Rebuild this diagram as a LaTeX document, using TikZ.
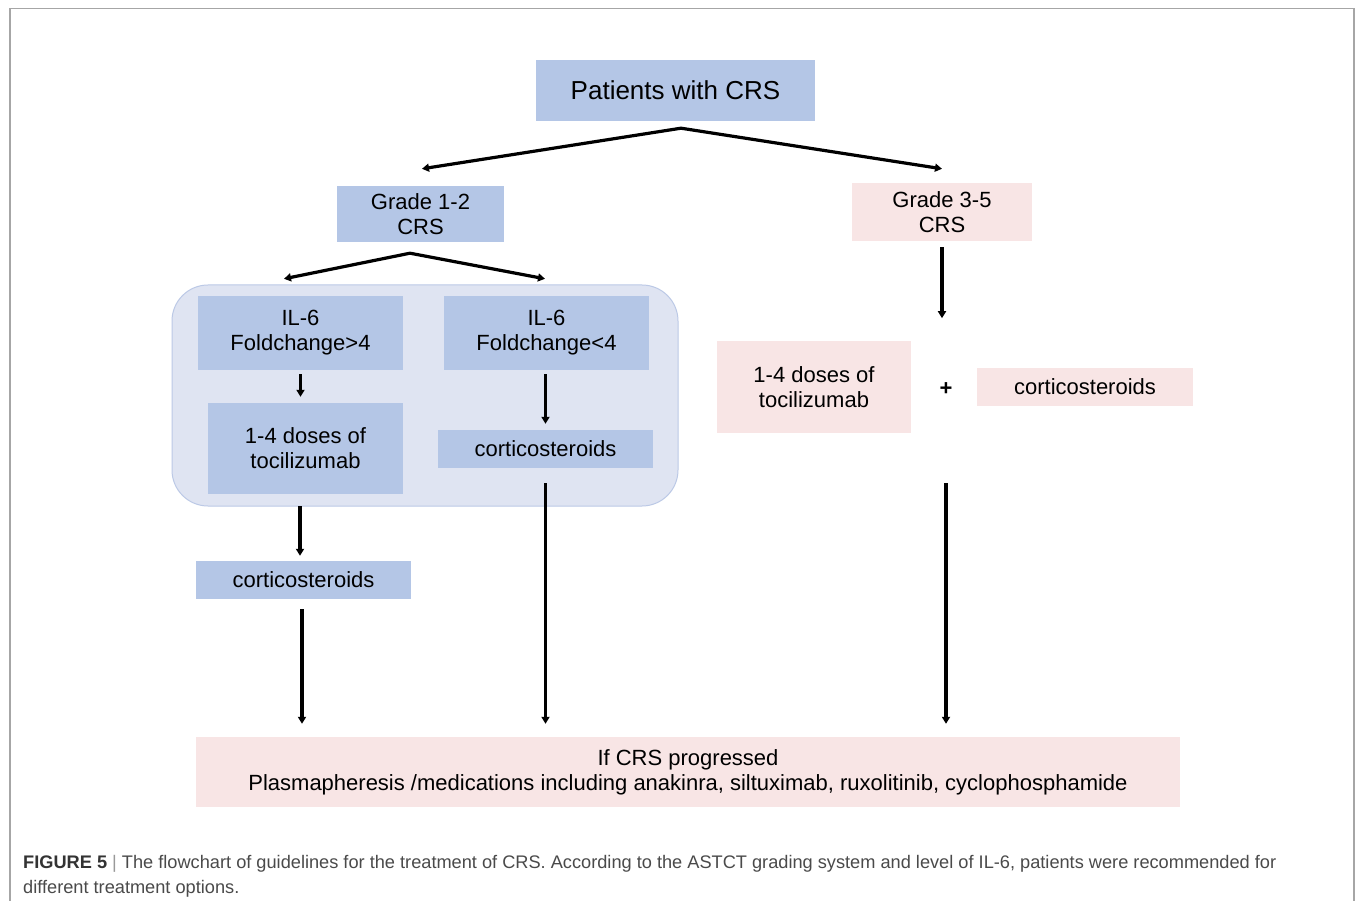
\documentclass[tikz,border=0pt]{standalone}
\usepackage{fontspec}
\setmainfont{Liberation Sans}
\usetikzlibrary{arrows.meta}
\definecolor{bluefill}{HTML}{B4C6E6}
\definecolor{grpfill}{HTML}{DFE4F2}
\definecolor{grpline}{HTML}{BCC9E6}
\definecolor{pinkfill}{HTML}{F8E5E5}
\definecolor{framegray}{HTML}{A6A6A6}
\definecolor{captext}{HTML}{4A4A4A}
\tikzset{
  box/.style={inner sep=0pt, align=center, font=\fontsize{22}{25}\selectfont},
  bluebox/.style={box, fill=bluefill},
  pinkbox/.style={box, fill=pinkfill},
  arr/.style={line width=3.2pt, -{Triangle[length=7pt,width=8pt]}},
}
\begin{document}
\begin{tikzpicture}[x=1pt,y=-1pt]
\useasboundingbox (0,0) rectangle (1355,901);
\fill[white] (0,0) rectangle (1355,901);
% frame
\draw[framegray, line width=1.5pt] (10,901) -- (10,8.5) -- (1354,8.5) -- (1354,901);

% group container
\node[draw=grpline, line width=1pt, fill=grpfill, rounded corners=36pt,
      minimum width=506pt, minimum height=221pt, inner sep=0pt] (grp) at (425,395.5) {};

% nodes
\node[bluebox, minimum width=279pt, minimum height=61pt, font=\fontsize{26}{30}\selectfont] (pat) at (675.5,90.5) {Patients with CRS};
\node[bluebox, minimum width=167pt, minimum height=56pt] (g12) at (420.5,214) {Grade 1-2\\CRS};
\node[pinkbox, minimum width=180pt, minimum height=58pt] (g35) at (942,212) {Grade 3-5\\CRS};

\node[bluebox, minimum width=205pt, minimum height=74pt] (ilhi) at (300.5,333) {IL-6\\Foldchange>4};
\node[bluebox, minimum width=205pt, minimum height=74pt] (illo) at (546.5,333) {IL-6\\Foldchange<4};
\node[bluebox, minimum width=195pt, minimum height=91pt] (toc1) at (305.5,448.5) {1-4 doses of\\tocilizumab};
\node[bluebox, minimum width=215pt, minimum height=38pt] (cort1) at (545.5,449) {corticosteroids};
\node[bluebox, minimum width=215pt, minimum height=38pt] (cort2) at (303.5,580) {corticosteroids};

\node[pinkbox, minimum width=194pt, minimum height=92pt] (toc2) at (814,387) {1-4 doses of\\tocilizumab};
\node[box, font=\fontsize{22}{25}\selectfont\bfseries] (plus) at (946,389) {+};
\node[pinkbox, minimum width=216pt, minimum height=38pt] (cort3) at (1085,387) {corticosteroids};

\node[pinkbox, minimum width=984pt, minimum height=70pt] (prog) at (688,772) {If CRS progressed\\Plasmapheresis /medications including anakinra, siltuximab, ruxolitinib, cyclophosphamide};

% connectors
\coordinate (patsplit) at ([xshift=5.5pt,yshift=-7pt]pat.south);
\draw[arr] (patsplit) -- ([xshift=1.5pt,yshift=17pt]g12.north);
\draw[arr] (patsplit) -- ([yshift=14pt]g35.north);

\coordinate (g12split) at ([xshift=-10.5pt,yshift=-11pt]g12.south);
\draw[arr] (g12split) -- ([xshift=-16.5pt,yshift=17pt]ilhi.north);
\draw[arr] (g12split) -- ([xshift=-1.5pt,yshift=17pt]illo.north);

\draw[arr] ([yshift=-6pt]g35.south) -- ([yshift=-77pt]g35.south);
\draw[arr] ([yshift=-4pt]ilhi.south) -- ([yshift=6pt]ilhi.south |- toc1.north);
\draw[arr] ([yshift=-4pt]cort1.north |- illo.south) -- ([yshift=6pt]cort1.north);
\draw[arr] ([xshift=-5.5pt,yshift=-12pt]toc1.south) -- ([xshift=-3.5pt,yshift=5pt]cort2.north);

\draw[arr] ([xshift=-1.5pt,yshift=-10pt]cort2.south) -- ([xshift=-1.5pt,yshift=13pt]cort2.south |- prog.north);
\draw[arr] ([yshift=-15pt]cort1.south) -- ([yshift=13pt]cort1.south |- prog.north);
\draw[arr] ([yshift=-94pt]plus.center) -- ([yshift=13pt]plus.center |- prog.north);

% caption
\node[anchor=base west, inner sep=0pt, font=\fontsize{18.2}{22}\selectfont, text=captext] (cap1) at (23,868)
  {{\color{black!80}\textbf{FIGURE 5}} {\color{black!40}|} The flowchart of guidelines for the treatment of CRS. According to the ASTCT grading system and level of IL-6, patients were recommended for};
\node[anchor=base west, inner sep=0pt, font=\fontsize{18.2}{22}\selectfont, text=captext] (cap2) at (23,893)
  {different treatment options.};
\end{tikzpicture}
\end{document}
